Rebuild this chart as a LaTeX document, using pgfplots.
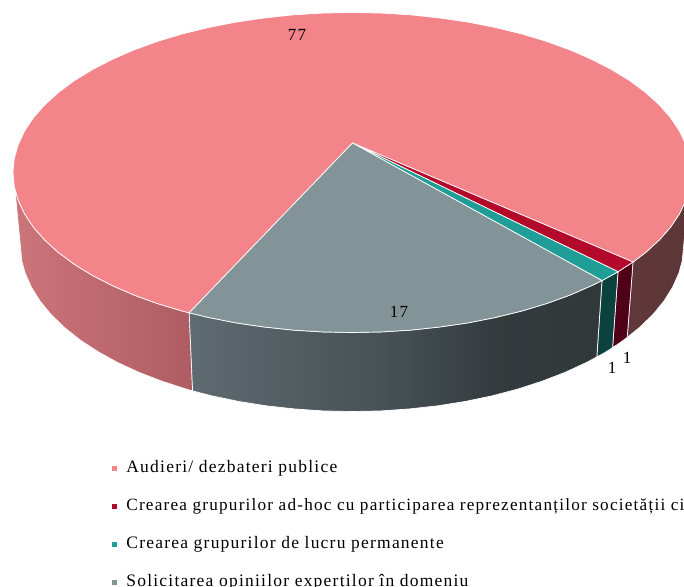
\documentclass[border=0pt]{standalone}
\usepackage{fontspec}
\setmainfont[LetterSpace=7]{Liberation Serif}
\usepackage{pgfplots}
\pgfplotsset{compat=1.18}
\definecolor{cpink}{HTML}{F3848A}
\definecolor{cred}{HTML}{B30A2C}
\definecolor{cteal}{HTML}{1F9E97}
\definecolor{cgray}{HTML}{829498}
\definecolor{sred}{HTML}{4F0018}
\definecolor{steal}{HTML}{0B423E}
\pgfdeclarehorizontalshading{pinkleft}{100bp}{rgb(0bp)=(0.80,0.46,0.48); rgb(25bp)=(0.80,0.46,0.48); rgb(75bp)=(0.69,0.36,0.39); rgb(100bp)=(0.69,0.36,0.39)}
\pgfdeclarehorizontalshading{pinkright}{100bp}{rgb(0bp)=(0.38,0.22,0.23); rgb(25bp)=(0.38,0.22,0.23); rgb(75bp)=(0.36,0.21,0.21); rgb(100bp)=(0.36,0.21,0.21)}
\pgfdeclarehorizontalshading{grayside}{100bp}{rgb(0bp)=(0.37,0.42,0.44); rgb(25bp)=(0.37,0.42,0.44); rgb(48bp)=(0.28,0.32,0.34); rgb(63bp)=(0.20,0.23,0.24); rgb(75bp)=(0.19,0.22,0.23); rgb(100bp)=(0.19,0.22,0.23)}
\begin{document}
\begin{tikzpicture}
\path[use as bounding box, clip] (0,0) rectangle (684pt,586pt);
\begin{axis}[
  scale only axis, width=684pt, height=586pt,
  xmin=0, xmax=684, ymin=0, ymax=586, y dir=reverse,
  hide axis,
  legend style={draw=none, fill=none, at={(axis cs:112,461)}, anchor=north west,
    inner sep=0pt, row sep=23pt, font=\fontsize{17.5}{20}\selectfont,
    cells={anchor=west}, nodes={inner sep=0pt, text height=11pt, text depth=4pt}},
  legend image code/.code={\path[#1, draw=none] (0pt,-2.6pt) rectangle (5.2pt,2.6pt);},
  /tikz/every odd column/.append style={column sep=9pt},
]
% side walls
\addplot[forget plot, shade, shading=pinkleft, draw=white, line width=0.7pt] coordinates {
(189.2,312.8)(182.5,311.1)(157.5,303.6)(134.1,295.1)(112.3,285.6)(92.3,275.3)(74.3,264.3)(58.4,252.5)(44.8,240.1)(33.4,227.2)(24.6,213.9)(18.2,200.3)(14.9,189.2)
(21.8,261)(25,272.7)(31.3,287)(40,301)(51.1,314.5)(64.5,327.5)(80,339.9)(97.7,351.5)(117.2,362.3)(138.6,372.2)(161.6,381.1)(186,389)(192.6,390.9)} -- cycle;
\addplot[forget plot, shade, shading=pinkright, draw=white, line width=0.7pt] coordinates {
(689.1,189.2)(685.8,200.3)(679.4,213.9)(670.6,227.2)(659.2,240.1)(645.6,252.5)(633,262)
(627.2,337.4)(639.5,327.5)(652.9,314.5)(664,301)(672.7,287)(679,272.7)(682.2,261)} -- cycle;
\addplot[forget plot, fill=sred, draw=white, line width=0.7pt] coordinates {
(633,262)(618,271.7)(612.6,347.6)(620,342.7)(627.2,337.4)} -- cycle;
\addplot[forget plot, fill=steal, draw=white, line width=0.7pt] coordinates {
(618,271.7)(602,280.6)(596.8,357)(605,352.5)(612.6,347.6)} -- cycle;
\addplot[forget plot, shade, shading=grayside, draw=white, line width=0.7pt] coordinates {
(602,280.6)(591.7,285.6)(569.9,295.1)(546.5,303.6)(521.5,311.1)(495.3,317.5)(467.9,322.9)(439.7,327)(410.9,330.1)(381.6,331.9)(352,332.5)(322.4,331.9)(293.1,330.1)(264.3,327)(236.1,322.9)(208.7,317.5)(189.2,312.8)
(192.6,390.9)(211.7,395.8)(238.5,401.4)(266.1,405.8)(294.4,408.9)(323,410.9)(352,411.5)(381,410.9)(409.6,408.9)(437.9,405.8)(465.5,401.4)(492.3,395.8)(518,389)(542.4,381.1)(565.4,372.2)(586.8,362.3)(596.8,357)} -- cycle;
% top faces
\addplot[fill=cpink, draw=white, line width=0.7pt] coordinates {
(352.5,143)(189.2,312.8)(182.5,311.1)(157.5,303.6)(134.1,295.1)(112.3,285.6)(92.3,275.3)(74.3,264.3)(58.4,252.5)(44.8,240.1)(33.4,227.2)(24.6,213.9)(18.2,200.3)(14.3,186.5)(13,172.5)(14.3,158.5)(18.2,144.7)(24.6,131.1)(33.4,117.8)(44.8,104.9)(58.4,92.5)(74.3,80.7)(92.3,69.7)(112.3,59.4)(134.1,49.9)(157.5,41.4)(182.5,33.9)(208.7,27.5)(236.1,22.1)(264.3,18)(293.1,14.9)(322.4,13.1)(352,12.5)(381.6,13.1)(410.9,14.9)(439.7,18)(467.9,22.1)(495.3,27.5)(521.5,33.9)(546.5,41.4)(569.9,49.9)(591.7,59.4)(611.7,69.7)(629.7,80.7)(645.6,92.5)(659.2,104.9)(670.6,117.8)(679.4,131.1)(685.8,144.7)(689.7,158.5)(691,172.5)(689.7,186.5)(685.8,200.3)(679.4,213.9)(670.6,227.2)(659.2,240.1)(645.6,252.5)(633,262)} -- cycle;
\addlegendentry{Audieri/ dezbateri publice}
\addplot[fill=cred, draw=white, line width=0.7pt] coordinates {
(352.5,143)(633,262)(618,271.7)} -- cycle;
\addlegendentry{\fontsize{17.2}{20}\selectfont Crearea grupurilor ad-hoc cu participarea reprezentanților societății ci}
\addplot[fill=cteal, draw=white, line width=0.7pt] coordinates {
(352.5,143)(618,271.7)(602,280.6)} -- cycle;
\addlegendentry{Crearea grupurilor de lucru permanente}
\addplot[fill=cgray, draw=white, line width=0.7pt] coordinates {
(352.5,143)(602,280.6)(591.7,285.6)(569.9,295.1)(546.5,303.6)(521.5,311.1)(495.3,317.5)(467.9,322.9)(439.7,327)(410.9,330.1)(381.6,331.9)(352,332.5)(322.4,331.9)(293.1,330.1)(264.3,327)(236.1,322.9)(208.7,317.5)(189.2,312.8)} -- cycle;
\addlegendentry{Solicitarea opiniilor experților în domeniu}
\node[font=\fontsize{17}{20}\selectfont] at (axis cs:297,35) {77};
\node[font=\fontsize{17}{20}\selectfont] at (axis cs:399,312) {17};
\node[font=\fontsize{17}{20}\selectfont] at (axis cs:627,358) {1};
\node[font=\fontsize{17}{20}\selectfont] at (axis cs:612,368) {1};
\end{axis}
\end{tikzpicture}
\end{document}
